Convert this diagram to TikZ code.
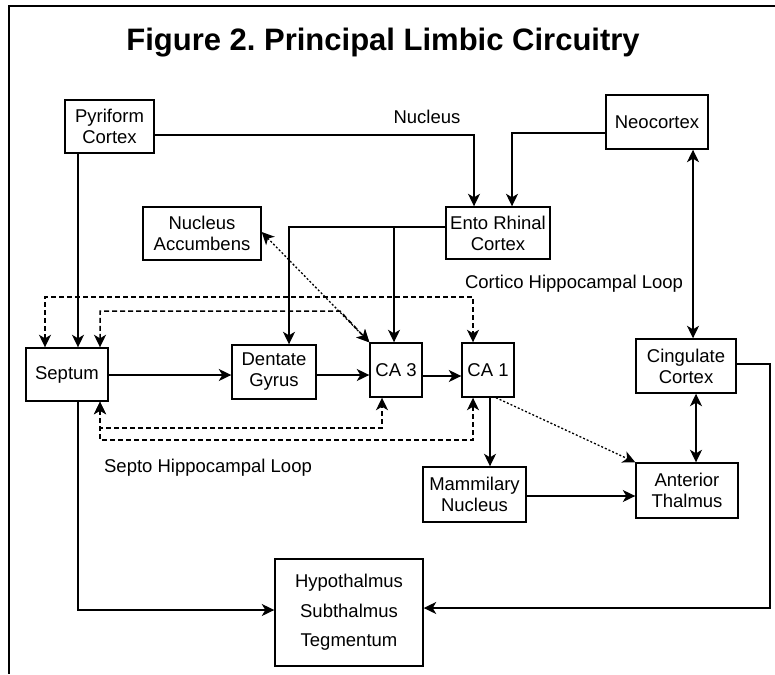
\documentclass[tikz,border=0pt]{standalone}
\usepackage{fontspec}
\setmainfont{Liberation Sans}
\usetikzlibrary{arrows.meta}
\begin{document}
\begin{tikzpicture}[x=1pt,y=-1pt,
  >={Stealth[length=12.5pt,width=12pt,inset=3.5pt]},
  box/.style={draw,line width=1.4pt,rectangle,inner sep=0pt,align=center,font=\fontsize{18.5}{21}\selectfont},
  conn/.style={line width=1.5pt},
  dsh/.style={line width=1.5pt,dash pattern=on 5pt off 3pt},
  dtd/.style={line width=1.3pt,dash pattern=on 2pt off 2pt},
  lbl/.style={font=\fontsize{18.5}{21}\selectfont,anchor=base,inner sep=0pt}]
\useasboundingbox (0,0) rectangle (775,674);
% frame
\draw[line width=1.4pt] (775,6) -- (9,6) -- (9,674);
% title
\node[font=\bfseries\fontsize{31}{36}\selectfont,anchor=base,inner sep=0pt] (title) at (383,51) {Figure 2.\ Principal Limbic Circuitry};
% boxes
\node[box,minimum width=89pt,minimum height=53pt] (pyr) at (109.5,126.5) {Pyriform\\Cortex};
\node[box,minimum width=102pt,minimum height=54pt] (neo) at (657,122) {Neocortex};
\node[box,minimum width=104pt,minimum height=52pt] (ento) at (498,233) {Ento Rhinal\\Cortex};
\node[box,minimum width=118pt,minimum height=53pt] (nacc) at (202,233.5) {Nucleus\\Accumbens};
\node[box,minimum width=82pt,minimum height=53pt] (sep) at (67,374.5) {Septum};
\node[box,minimum width=84pt,minimum height=54pt] (dg) at (274,372) {Dentate\\Gyrus};
\node[box,minimum width=52pt,minimum height=54pt] (ca3) at (396,370) {CA 3};
\node[box,minimum width=52pt,minimum height=54pt] (ca1) at (488,370) {CA 1};
\node[box,minimum width=100pt,minimum height=54pt] (cing) at (686,366) {Cingulate\\Cortex};
\node[box,minimum width=103pt,minimum height=55pt] (mam) at (474.5,494.5) {Mammilary\\Nucleus};
\node[box,minimum width=102pt,minimum height=55pt] (ant) at (687,490.5) {Anterior\\Thalmus};
\node[box,minimum width=148pt,minimum height=107pt,font=\fontsize{18.5}{29.5}\selectfont] (hyp) at (349,612.5) {Hypothalmus\\Subthalmus\\Tegmentum};
% labels
\node[lbl] (lnuc) at (427,123) {Nucleus};
\node[lbl] (lcort) at (574,288) {Cortico Hippocampal Loop};
\node[lbl] (lsept) at (208,472) {Septo Hippocampal Loop};
% solid connectors
\draw[conn,->] (pyr.east |- 0,135) -| (474,0 |- ento.north);
\draw[conn,->] (neo.west |- 0,133) -| (512,0 |- ento.north);
\draw[conn,->] (78,0 |- pyr.south) -- (78,0 |- sep.north);
\draw[conn,->] (ento.west |- 0,227) -| (289,0 |- dg.north);
\draw[conn,->] (ento.west |- 0,227) -| (394,0 |- ca3.north);
\draw[conn,->] (sep.east |- 0,375) -- (dg.west |- 0,375);
\draw[conn,->] (dg.east |- 0,375) -- (ca3.west |- 0,375);
\draw[conn,->] (ca3.east |- 0,376) -- (ca1.west |- 0,376);
\draw[conn,->] (490,0 |- ca1.south) -- (490,0 |- mam.north);
\draw[conn,->] (mam.east |- 0,496) -- (ant.west |- 0,496);
\draw[conn,<->] (693,0 |- neo.south) -- (693,0 |- cing.north);
\draw[conn,<->] (696,0 |- cing.south) -- (696,0 |- ant.north);
\draw[conn,->] (cing.east |- 0,364) -| (770,608) -- (hyp.east |- 0,608);
\draw[conn,->] (78,0 |- sep.south) |- (hyp.west |- 0,610);
% dotted connectors
\draw[dtd,<->] (nacc.east |- 0,232) -- (ca3.north west);
\draw[dtd,->] (496,0 |- ca1.south) -- (ant.north west);
% dashed loops
\draw[dsh,<->] (45,0 |- sep.north) |- (473,297) -- (473,0 |- ca1.north);
\draw[dsh,<->] (100,0 |- sep.north) |- (340,311) -- (ca3.north west);
\draw[dsh,<->] (100,0 |- sep.south) |- (382,428) -- (382,0 |- ca3.south);
\draw[dsh,<->] (100,0 |- sep.south) |- (473,440) -- (473,0 |- ca1.south);
\end{tikzpicture}
\end{document}
